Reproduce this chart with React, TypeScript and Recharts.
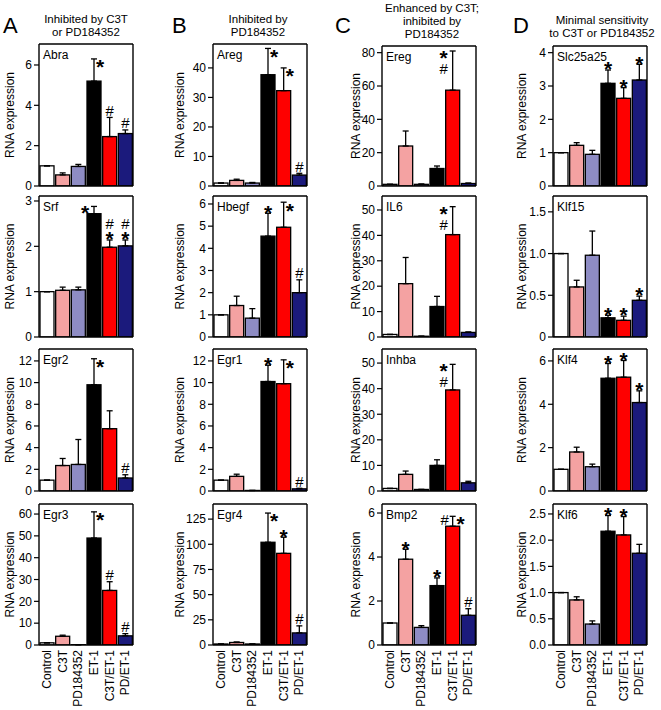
import React from 'react';
import { BarChart, Bar, XAxis, YAxis, ErrorBar } from 'recharts';

const categories = ['Control', 'C3T', 'PD184352', 'ET-1', 'C3T/ET-1', 'PD/ET-1'];
const barColors = ['#ffffff', '#f4a2a2', '#8e8cc4', '#000000', '#fe0000', '#1b1a7c'];

// ---- Column A: Inhibited by C3T or PD184352
const abraValues = [1.0, 0.55, 0.97, 5.2, 2.45, 2.6];
const abraErrors = [0, 0.1, 0.1, 1.1, 0.95, 0.18];
const abraMarks = ['', '', '', '>*', '^#', '^#'];
const abraTicks = [0, 2, 4, 6];

const srfValues = [1.0, 1.03, 1.04, 2.72, 1.98, 2.01];
const srfErrors = [0, 0.07, 0.06, 0.16, 0.16, 0.13];
const srfMarks = ['', '', '', '<*', '^#/*', '^#/*'];
const srfTicks = [0, 1, 2, 3];

const egr2Values = [1.0, 2.35, 2.45, 9.8, 5.75, 1.2];
const egr2Errors = [0, 0.65, 2.3, 2.4, 1.65, 0.3];
const egr2Marks = ['', '', '', '>*', '', '^#'];
const egr2Ticks = [0, 2, 4, 6, 8, 10, 12];

const egr3Values = [1.0, 4.0, 0.15, 49, 25, 4.2];
const egr3Errors = [0, 0.5, 0, 12, 4, 1.0];
const egr3Marks = ['', '', '', '>*', '^#', '^#'];
const egr3Ticks = [0, 10, 20, 30, 40, 50, 60];

// ---- Column B: Inhibited by PD184352
const aregValues = [1.0, 1.9, 1.0, 37.7, 32.3, 3.7];
const aregErrors = [0, 0.4, 0.2, 8.9, 7.7, 0.6];
const aregMarks = ['', '', '', '>*', '>*', '^#'];
const aregTicks = [0, 10, 20, 30, 40];

const hbegfValues = [1.0, 1.42, 0.85, 4.55, 4.95, 2.0];
const hbegfErrors = [0, 0.42, 0.43, 1.03, 1.13, 0.58];
const hbegfMarks = ['', '', '', '^*', '>*', '^#'];
const hbegfTicks = [0, 1, 2, 3, 4, 5, 6];

const egr1Values = [1.0, 1.35, 0.05, 10.1, 9.9, 0.2];
const egr1Errors = [0, 0.2, 0, 1.5, 2.2, 0.05];
const egr1Marks = ['', '', '', '^*', '>*', '^#'];
const egr1Ticks = [0, 2, 4, 6, 8, 10, 12];

const egr4Values = [1, 2.5, 1, 102, 91, 12];
const egr4Errors = [0, 0.5, 0, 29, 16, 7];
const egr4Marks = ['', '', '', '>*', '^*', '^#'];
const egr4Ticks = [0, 25, 50, 75, 100, 125];

// ---- Column C: Enhanced by C3T; inhibited by PD184352
const eregValues = [1, 24, 1, 10.5, 57.5, 1.5];
const eregErrors = [0, 9, 0.2, 1.5, 23.5, 0.3];
const eregMarks = ['', '', '', '', '<*/#', ''];
const eregTicks = [0, 20, 40, 60, 80];

const il6Values = [1, 21, 0.3, 12, 40.3, 1.8];
const il6Errors = [0, 10.3, 0, 4, 11, 0.2];
const il6Marks = ['', '', '', '', '<*/#', ''];
const il6Ticks = [0, 10, 20, 30, 40, 50];

const inhbaValues = [1, 6.5, 0.6, 10, 39.5, 3.2];
const inhbaErrors = [0, 1.3, 0, 2.2, 10, 0.6];
const inhbaMarks = ['', '', '', '', '<*/#', ''];
const inhbaTicks = [0, 10, 20, 30, 40, 50];

const bmp2Values = [1.0, 3.9, 0.8, 2.7, 5.4, 1.35];
const bmp2Errors = [0, 0.45, 0.08, 0.35, 0.45, 0.3];
const bmp2Marks = ['', '^*', '', '^*', '=#*', '^#'];
const bmp2Ticks = [0, 2, 4, 6];

// ---- Column D: Minimal sensitivity to C3T or PD184352
const slcValues = [1.0, 1.22, 0.95, 3.08, 2.63, 3.18];
const slcErrors = [0, 0.08, 0.12, 0.4, 0.32, 0.47];
const slcMarks = ['', '', '', '^*', '^*', '^*'];
const slcTicks = [0, 1, 2, 3, 4];

const klf15Values = [1.0, 0.6, 0.98, 0.23, 0.2, 0.44];
const klf15Errors = [0, 0.08, 0.29, 0.03, 0.05, 0.05];
const klf15Marks = ['', '', '', '^*', '^*', '^*'];
const klf15Ticks = [0, 0.5, 1.0, 1.5];
const klf15TickLabels = ['0', '0.5', '1.0', '1.5'];

const klf4Values = [1.0, 1.8, 1.12, 5.2, 5.25, 4.08];
const klf4Errors = [0, 0.22, 0.12, 0.68, 0.77, 0.54];
const klf4Marks = ['', '', '', '^*', '^*', '^*'];
const klf4Ticks = [0, 2, 4, 6];

const klf6Values = [1.0, 0.86, 0.4, 2.17, 2.1, 1.75];
const klf6Errors = [0, 0.06, 0.06, 0.3, 0.35, 0.17];
const klf6Marks = ['', '', '', '^*', '^*', ''];
const klf6Ticks = [0, 0.5, 1.0, 1.5, 2.0, 2.5];
const klf6TickLabels = ['0.0', '0.5', '1.0', '1.5', '2.0', '2.5'];

const columnTitles = [
  ['Inhibited by C3T', 'or PD184352'],
  ['Inhibited by', 'PD184352'],
  ['Enhanced by C3T;', 'inhibited by', 'PD184352'],
  ['Minimal sensitivity', 'to C3T or PD184352'],
];
const columnLetters = ['A', 'B', 'C', 'D'];

// ---- layout
const FONT = '"Liberation Sans", Arial, Helvetica, sans-serif';
const COL_LEFT = [39, 213, 382, 553];
const COL_YW = [58, 66, 52, 62];
const BOX_W = 94;
const ROW_TOP = [
  [44, 44, 46, 46],
  [196, 196, 196, 196],
  [349, 349, 349, 349],
  [504, 504, 504, 504],
];
const ROW_BOTTOM = [186, 337, 491, 645];
const TITLE_CX = [86, 258, 432, 602];
const TITLE_BASE = [[23, 36], [23, 36], [12, 25, 38], [24, 37]];
const LETTER_X = [3, 172, 335, 513];

type Panel = {
  col: number; row: number; gene: string; values: number[]; errors: number[];
  marks: string[]; ticks: number[]; tickLabels?: string[]; max: number;
};

const panels: Panel[] = [
  { col: 0, row: 0, gene: 'Abra', values: abraValues, errors: abraErrors, marks: abraMarks, ticks: abraTicks, max: 7.04 },
  { col: 0, row: 1, gene: 'Srf', values: srfValues, errors: srfErrors, marks: srfMarks, ticks: srfTicks, max: 3.11 },
  { col: 0, row: 2, gene: 'Egr2', values: egr2Values, errors: egr2Errors, marks: egr2Marks, ticks: egr2Ticks, max: 13.1 },
  { col: 0, row: 3, gene: 'Egr3', values: egr3Values, errors: egr3Errors, marks: egr3Marks, ticks: egr3Ticks, max: 64.6 },
  { col: 1, row: 0, gene: 'Areg', values: aregValues, errors: aregErrors, marks: aregMarks, ticks: aregTicks, max: 48.1 },
  { col: 1, row: 1, gene: 'Hbegf', values: hbegfValues, errors: hbegfErrors, marks: hbegfMarks, ticks: hbegfTicks, max: 6.36 },
  { col: 1, row: 2, gene: 'Egr1', values: egr1Values, errors: egr1Errors, marks: egr1Marks, ticks: egr1Ticks, max: 13.1 },
  { col: 1, row: 3, gene: 'Egr4', values: egr4Values, errors: egr4Errors, marks: egr4Marks, ticks: egr4Ticks, max: 140 },
  { col: 2, row: 0, gene: 'Ereg', values: eregValues, errors: eregErrors, marks: eregMarks, ticks: eregTicks, max: 84 },
  { col: 2, row: 1, gene: 'IL6', values: il6Values, errors: il6Errors, marks: il6Marks, ticks: il6Ticks, max: 55.5 },
  { col: 2, row: 2, gene: 'Inhba', values: inhbaValues, errors: inhbaErrors, marks: inhbaMarks, ticks: inhbaTicks, max: 55.5 },
  { col: 2, row: 3, gene: 'Bmp2', values: bmp2Values, errors: bmp2Errors, marks: bmp2Marks, ticks: bmp2Ticks, max: 6.41 },
  { col: 3, row: 0, gene: 'Slc25a25', values: slcValues, errors: slcErrors, marks: slcMarks, ticks: slcTicks, max: 4.2 },
  { col: 3, row: 1, gene: 'Klf15', values: klf15Values, errors: klf15Errors, marks: klf15Marks, ticks: klf15Ticks, tickLabels: klf15TickLabels, max: 1.69 },
  { col: 3, row: 2, gene: 'Klf4', values: klf4Values, errors: klf4Errors, marks: klf4Marks, ticks: klf4Ticks, max: 6.55 },
  { col: 3, row: 3, gene: 'Klf6', values: klf6Values, errors: klf6Errors, marks: klf6Marks, ticks: klf6Ticks, tickLabels: klf6TickLabels, max: 2.69 },
];

const STAR_FS = 21;
const HASH_FS = 15;

function symbolText(sym: string, x: number, baseline: number, anchor: string, key: string) {
  const star = sym === '*';
  return (
    <text key={key} x={x} y={baseline} textAnchor={anchor} fontSize={star ? STAR_FS : HASH_FS}
      fontWeight={star ? 'bold' : 'normal'} fill="#000" fontFamily={FONT}>{sym}</text>
  );
}

function BarShape(props: any) {
  const { x, y, width, height, payload } = props;
  const els: any[] = [
    <rect key="r" x={x} y={y} width={width} height={Math.max(height, 0)} fill={payload.color}
      stroke="#000" strokeWidth={1.3} />,
  ];
  const mark: string = payload.mark;
  if (mark && payload.v > 0 && height > 0) {
    const ppu = height / payload.v;
    const capY = y - payload.e * ppu;
    const cx = x + width / 2;
    const mode = mark[0];
    const body = mark.slice(1);
    if (mode === '^') {
      const lines = body.split('/');
      let cursor = capY - 1.5;
      for (let i = lines.length - 1; i >= 0; i--) {
        const s = lines[i];
        if (s === '*') {
          const base = cursor + 0.37 * STAR_FS;
          els.push(symbolText(s, cx, base, 'middle', 'm' + i));
          cursor = base - 0.716 * STAR_FS - 2.5;
        } else {
          const base = cursor;
          els.push(symbolText(s, cx, base, 'middle', 'm' + i));
          cursor = base - 0.716 * HASH_FS - 2.5;
        }
      }
    } else if (mode === '>') {
      const center = capY + 4;
      const base = body === '*' ? center + 0.543 * STAR_FS : center + 0.35 * HASH_FS;
      els.push(symbolText(body, cx + 2, base, 'start', 'm0'));
    } else if (mode === '<') {
      const lines = body.split('/');
      let cursor = capY - 1;
      lines.forEach((s, i) => {
        if (s === '*') {
          const base = cursor + 0.716 * STAR_FS;
          els.push(symbolText(s, cx - 9, base, 'middle', 'm' + i));
          cursor = base - 0.37 * STAR_FS + 6;
        } else {
          const base = cursor + 0.716 * HASH_FS;
          els.push(symbolText(s, cx - 9, base, 'middle', 'm' + i));
          cursor = base + 3;
        }
      });
    } else if (mode === '=') {
      const syms = body.split('');
      const center = capY + 3;
      syms.forEach((s, i) => {
        const base = s === '*' ? center + 0.543 * STAR_FS : center + 0.35 * HASH_FS;
        els.push(symbolText(s, i === 0 ? cx - 8 : cx + 8, base, 'middle', 'm' + i));
      });
    }
  }
  return <g>{els}</g>;
}

function XTick(props: any) {
  const { x, y, payload } = props;
  return (
    <text x={x} y={y} transform={`rotate(-90 ${x} ${y})`} textAnchor="end" dominantBaseline="central"
      fontSize={12} fill="#000" fontFamily={FONT}>{payload.value}</text>
  );
}

const MARGIN_TOP = 4;

function PanelChart({ p }: { p: Panel }) {
  const bottomRow = p.row === 3;
  const top = ROW_TOP[p.row][p.col];
  const bottom = ROW_BOTTOM[p.row];
  const plotH = bottom - top;
  const yw = COL_YW[p.col];
  const xh = bottomRow ? 64 : 1;
  const mb = bottomRow ? 0 : 8;
  const w = yw + BOX_W + 1 + 3;
  const h = MARGIN_TOP + 1 + plotH + xh + mb;
  const data = categories.map((name, i) => ({
    name,
    v: p.values[i],
    e: p.errors[i],
    err: [0, p.errors[i]],
    mark: p.marks[i],
    color: barColors[i],
  }));
  const fmt = (t: number) => {
    const idx = p.ticks.indexOf(t);
    if (p.tickLabels && idx >= 0) return p.tickLabels[idx];
    return String(t);
  };
  const axisLine = { stroke: '#000', strokeWidth: 1.4 };
  return (
    <div style={{ position: 'absolute', left: COL_LEFT[p.col] - yw, top: top - 1 - MARGIN_TOP }}>
      <BarChart width={w} height={h} data={data} margin={{ top: MARGIN_TOP, right: 3, bottom: mb, left: 0 }}
        barCategoryGap={1}>
        <XAxis dataKey="name" interval={0} axisLine={axisLine} tickLine={false} height={xh}
          tick={bottomRow ? <XTick /> : false} tickSize={4} tickMargin={1} />
        <XAxis xAxisId="top" orientation="top" dataKey="name" height={1} tick={false} tickLine={false}
          axisLine={axisLine}
          label={{ value: p.gene, position: 'insideLeft', offset: 4, dy: 11, fontSize: 12, fill: '#000' }} />
        <YAxis type="number" domain={[0, p.max]} ticks={p.ticks} allowDataOverflow interval={0}
          width={yw} tickSize={5} tickMargin={2} tickFormatter={fmt}
          tick={{ fontSize: 12, fill: '#000' }} axisLine={axisLine} tickLine={{ stroke: '#000', strokeWidth: 1.2 }}
          label={{ value: 'RNA expression', angle: -90, position: 'center', fontSize: 12, fill: '#000' }} />
        <YAxis yAxisId="right" orientation="right" width={1} domain={[0, 1]} tick={false} tickLine={false}
          axisLine={axisLine} />
        <Bar dataKey="v" shape={<BarShape />} isAnimationActive={false}>
          <ErrorBar dataKey="err" width={3} stroke="#000" strokeWidth={1.3} direction="y" isAnimationActive={false} />
        </Bar>
      </BarChart>
    </div>
  );
}

export default function App() {
  return (
    <div style={{ position: 'absolute', left: 0, top: 0, width: 661, height: 710, background: '#fff', fontFamily: FONT, overflow: 'hidden' }}>
      <svg width={661} height={48} style={{ position: 'absolute', left: 0, top: 0 }}>
        {columnLetters.map((l, i) => (
          <text key={l} x={LETTER_X[i]} y={33} fontSize={22} fill="#000" fontFamily={FONT}>{l}</text>
        ))}
        {columnTitles.map((lines, i) =>
          lines.map((t, j) => (
            <text key={i + '-' + j} x={TITLE_CX[i]} y={TITLE_BASE[i][j]} textAnchor="middle" fontSize={11.5}
              fill="#000" fontFamily={FONT}>{t}</text>
          ))
        )}
      </svg>
      {panels.map((p) => (
        <PanelChart key={p.gene} p={p} />
      ))}
    </div>
  );
}
